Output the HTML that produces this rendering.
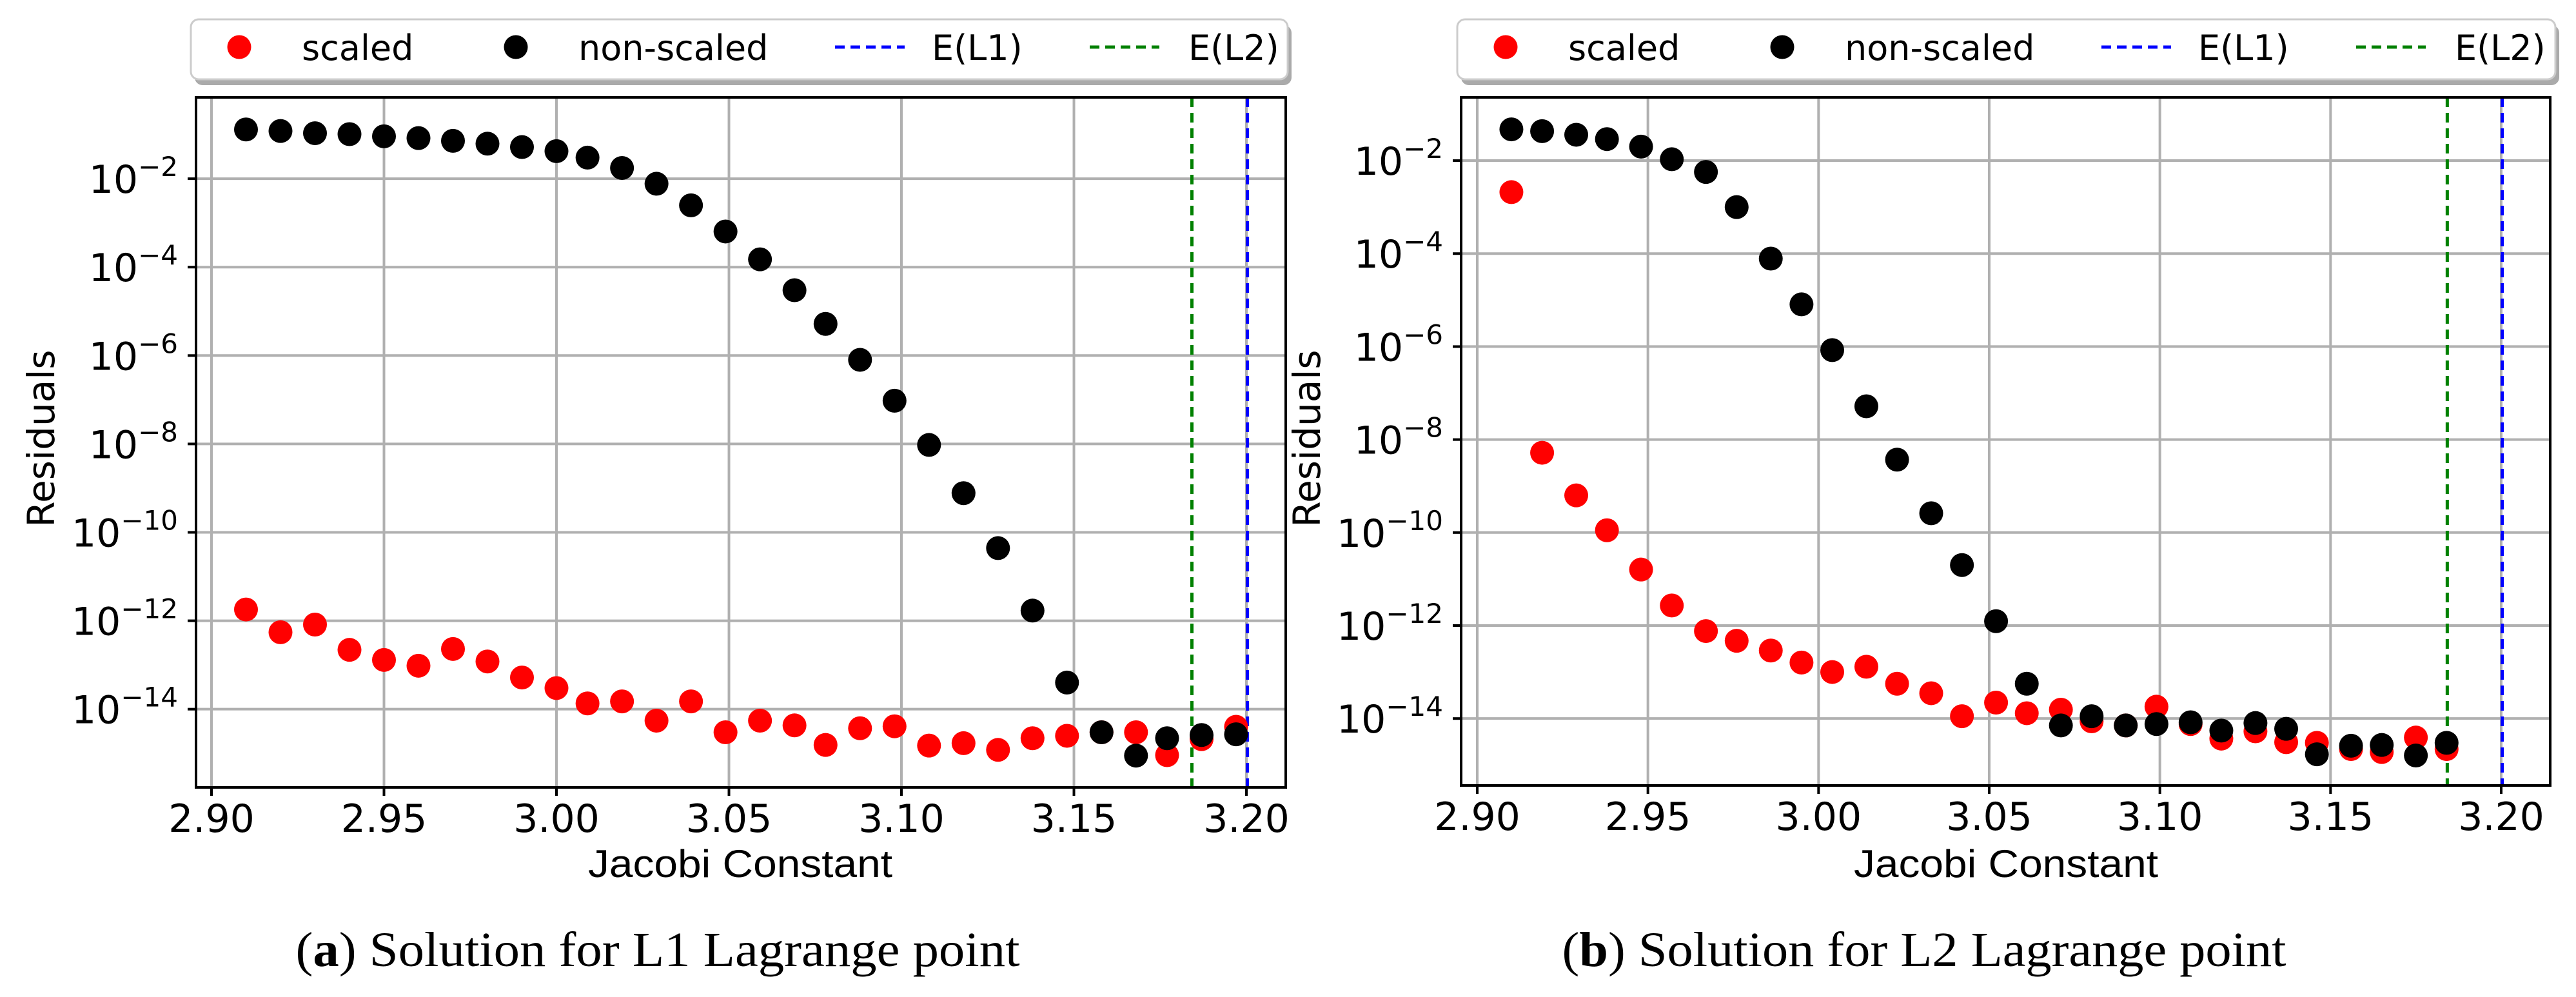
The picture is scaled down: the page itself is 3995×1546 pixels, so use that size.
<!DOCTYPE html>
<html><head><meta charset="utf-8"><style>
html,body{margin:0;padding:0;background:#fff;}
svg{display:block;}
</style></head><body>
<svg id="fig" width="3995" height="1546" viewBox="0 0 3995 1546" xmlns="http://www.w3.org/2000/svg"></svg>
<script>
// ---- Data: panel (a) L1 ----
const l1Jacobi = [2.910,2.920,2.930,2.940,2.950,2.960,2.970,2.980,2.990,3.000,3.009,3.019,3.029,3.039,3.049,3.059,3.069,3.078,3.088,3.098,3.108,3.118,3.128,3.138,3.148,3.158,3.168,3.177,3.187,3.197];
const l1Scaled = [1.8e-12,5.5e-13,8.2e-13,2.2e-13,1.3e-13,9.6e-14,2.3e-13,1.2e-13,5.2e-14,3.0e-14,1.35e-14,1.5e-14,5.5e-15,1.5e-14,3.0e-15,5.5e-15,4.3e-15,1.55e-15,3.7e-15,4.1e-15,1.5e-15,1.7e-15,1.2e-15,2.2e-15,2.5e-15,3.0e-15,3.0e-15,9.1e-16,2.1e-15,4.0e-15];
const l1NonScaled = [0.13,0.12,0.107,0.102,0.091,0.083,0.072,0.062,0.052,0.042,0.030,0.0175,7.7e-3,2.5e-3,6.4e-4,1.5e-4,3.0e-5,5.2e-6,8e-7,9.5e-8,9.5e-9,7.7e-10,4.4e-11,1.7e-12,4e-14,3.0e-15,8.9e-16,2.2e-15,2.6e-15,2.7e-15];
// ---- Data: panel (b) L2 ----
const l2Jacobi = [2.910,2.919,2.929,2.938,2.948,2.957,2.967,2.976,2.986,2.995,3.004,3.014,3.023,3.033,3.042,3.052,3.061,3.071,3.080,3.090,3.099,3.109,3.118,3.128,3.137,3.146,3.156,3.165,3.175,3.184];
const l2Scaled = [2.1e-3,5.2e-9,6.3e-10,1.12e-10,1.6e-11,2.7e-12,7.6e-13,4.7e-13,2.9e-13,1.6e-13,1.0e-13,1.3e-13,5.6e-14,3.5e-14,1.12e-14,2.2e-14,1.3e-14,1.55e-14,8.7e-15,7.1e-15,1.8e-14,7.6e-15,3.7e-15,5.3e-15,3.1e-15,3.0e-15,2.2e-15,1.9e-15,3.9e-15,2.2e-15];
const l2NonScaled = [0.047,0.043,0.036,0.029,0.020,0.0107,5.7e-3,1.0e-3,7.8e-5,8.1e-6,8.4e-7,5.2e-8,3.7e-9,2.6e-10,2.0e-11,1.24e-12,5.6e-14,7.1e-15,1.12e-14,7.1e-15,7.6e-15,8.3e-15,5.5e-15,8.0e-15,6.0e-15,1.7e-15,2.6e-15,2.7e-15,1.6e-15,3.0e-15];
// ---- Reference lines ----
const energyL1 = [3.2003];
const energyL2 = [3.1842];
// ---- Ticks ----
const xTickValues = [2.90,2.95,3.00,3.05,3.10,3.15,3.20];
const xTickLabels = ["2.90","2.95","3.00","3.05","3.10","3.15","3.20"];
const yTickExponents = [-2,-4,-6,-8,-10,-12,-14];
const legendLabels = ["scaled","non-scaled","E(L1)","E(L2)"];

const NS = "http://www.w3.org/2000/svg";
const svg = document.getElementById('fig');
function mk(tag, attrs, parent){ const e=document.createElementNS(NS,tag); for(const k in attrs) e.setAttribute(k,attrs[k]); (parent||svg).appendChild(e); return e; }

function drawPanel(p){
  const g = mk('g',{});
  
  
  const xs = v => p.x0 + (v-2.90)/0.30*(p.x1-p.x0);
  const ys = v => p.yTop + (p.logTop - Math.log10(v))/(p.logTop-p.logBot)*(p.yBot-p.yTop);
  // grid
  xTickValues.forEach(t=>{ const l=mk('line',{x1:xs(t),x2:xs(t),y1:p.yTop,y2:p.yBot,stroke:'#b0b0b0','stroke-width':4},g);
      });
  yTickExponents.forEach(e=>{ const l=mk('line',{x1:p.axL,x2:p.axR,y1:ys(Math.pow(10,e)),y2:ys(Math.pow(10,e)),stroke:'#b0b0b0','stroke-width':4},g);
      });
  // reference lines
  const vl1=mk('line',{x1:xs(energyL1[0]),x2:xs(energyL1[0]),y1:p.yTop,y2:p.yBot,stroke:'#0000ff','stroke-width':5,'stroke-dasharray':'15 9'},g);
   
  const vl2=mk('line',{x1:xs(energyL2[0]),x2:xs(energyL2[0]),y1:p.yTop,y2:p.yBot,stroke:'#008000','stroke-width':5,'stroke-dasharray':'15 9'},g);
   
  // points
  p.jac.forEach((x,i)=>{ const c=mk('circle',{cx:xs(x),cy:ys(p.scaled[i]),r:18.5,fill:'#ff0000'},g);
      });
  p.jac.forEach((x,i)=>{ const c=mk('circle',{cx:xs(x),cy:ys(p.non[i]),r:18.5,fill:'#000000'},g);
      });
  // frame
  const fr=mk('rect',{x:p.axL,y:p.yTop,width:p.axR-p.axL,height:p.yBot-p.yTop,fill:'none',stroke:'#000','stroke-width':4},g);
   
  // x ticks
  xTickValues.forEach((t,i)=>{ mk('line',{x1:xs(t),x2:xs(t),y1:p.yBot,y2:p.yBot+13,stroke:'#000','stroke-width':4},g);
    const tx=mk('text',{x:xs(t),y:p.yBot+69,'text-anchor':'middle','font-family':'DejaVu Sans, sans-serif','font-size':60},g);
    tx.textContent=xTickLabels[i];
      });
  // y ticks
  yTickExponents.forEach(e=>{ const y=ys(Math.pow(10,e));
    mk('line',{x1:p.axL-13,x2:p.axL,y1:y,y2:y,stroke:'#000','stroke-width':4},g);
    const tx=mk('text',{x:p.labR,y:y+22,'text-anchor':'end','font-family':'DejaVu Sans, sans-serif','font-size':60},g);
     
    const a=mk('tspan',{},tx); a.textContent='10';
    const b=mk('tspan',{dy:-26,'font-size':42},tx); b.textContent='\u2212'+(-e); });
  // axis titles
  const xt=mk('text',{x:p.xlabX,y:1360,'text-anchor':'middle','font-family':'Liberation Sans, sans-serif','font-size':60,textLength:472,lengthAdjust:'spacingAndGlyphs'},g);
  xt.textContent='Jacobi Constant';  
  const yt=mk('text',{x:0,y:0,'text-anchor':'middle','font-family':'DejaVu Sans, sans-serif','font-size':58,transform:`translate(${p.ylabX},680) rotate(-90)`},g);
  yt.textContent='Residuals';  
  // caption
  const cap=mk('text',{x:p.capX,y:1498,'text-anchor':'middle','font-family':'Liberation Serif, serif','font-size':76,textLength:1123,lengthAdjust:'spacingAndGlyphs'},g);
   
  const c1=mk('tspan',{},cap); c1.textContent='(';
  const c2=mk('tspan',{'font-weight':'bold'},cap); c2.textContent=p.letter;
  const c3=mk('tspan',{},cap); c3.textContent=') Solution for '+p.pt+' Lagrange point';
  // legend
  const lg=mk('g',{},g);  
  mk('rect',{x:p.legL+6,y:39,width:p.legR-p.legL,height:93,rx:12,fill:'#aaaaaa'},lg);
  mk('rect',{x:p.legL,y:30,width:p.legR-p.legL,height:93,rx:12,fill:'#fff',stroke:'#cccccc','stroke-width':3},lg);
  const o=p.legL-296;
  const e1=mk('circle',{cx:371+o,cy:73,r:18.5,fill:'#ff0000'},lg);  
  const e2=mk('circle',{cx:800+o,cy:73,r:18.5,fill:'#000'},lg);  
  const e3=mk('line',{x1:1295+o,x2:1403+o,y1:73,y2:73,stroke:'#0000ff','stroke-width':5,'stroke-dasharray':'15 9'},lg);  
  const e4=mk('line',{x1:1690+o,x2:1798+o,y1:73,y2:73,stroke:'#008000','stroke-width':5,'stroke-dasharray':'15 9'},lg);  
  [468,897,1445,1843].forEach((lx,i)=>{ const t=mk('text',{x:lx+o,y:93,'font-family':'DejaVu Sans, sans-serif','font-size':54},lg);
    t.textContent=legendLabels[i];   });
}

drawPanel({name:'panel-a-l1',letter:'a',pt:'L1',jac:l1Jacobi,scaled:l1Scaled,non:l1NonScaled,
  x0:328,x1:1933,axL:304,axR:1994,yTop:151,yBot:1221,logTop:-0.16,logBot:-15.77,labR:276,
  xlabX:1148,ylabX:84,capX:1020,legL:296,legR:1997});
drawPanel({name:'panel-b-l2',letter:'b',pt:'L2',jac:l2Jacobi,scaled:l2Scaled,non:l2NonScaled,
  x0:2291,x1:3879,axL:2266,axR:3955,yTop:151,yBot:1218,logTop:-0.64,logBot:-15.44,labR:2238,
  xlabX:3111,ylabX:2047,capX:2984,legL:2260,legR:3963});
</script>
</body></html>
